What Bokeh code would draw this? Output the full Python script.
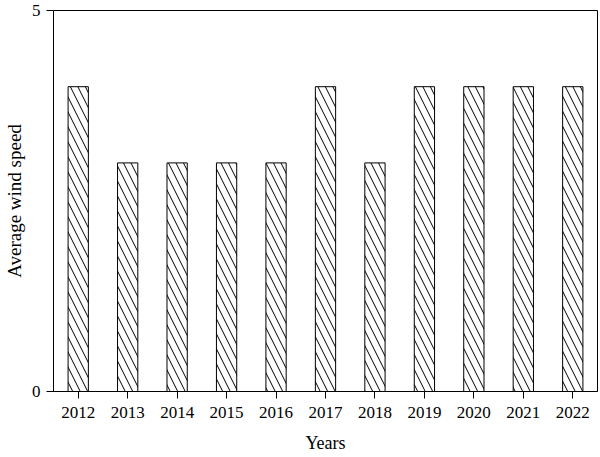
from bokeh.plotting import figure
from bokeh.models import FixedTicker, ColumnDataSource
from bokeh.embed import file_html
from bokeh.resources import INLINE

years = ["2012", "2013", "2014", "2015", "2016", "2017", "2018", "2019", "2020", "2021", "2022"]
speeds = [4, 3, 3, 3, 3, 4, 3, 4, 4, 4, 4]
y_ticks = [0, 5]

src = ColumnDataSource(dict(x=years, top=speeds))

p = figure(x_range=years, y_range=(0, 5), width=600, height=457,
           output_backend="svg", toolbar_location=None,
           min_border_left=10, min_border_right=3, min_border_top=10, min_border_bottom=66)
p.x_range.range_padding = 0

p.vbar(x="x", top="top", width=0.41, source=src, fill_color="white",
       line_color="black", line_width=1,
       hatch_pattern="\\", hatch_color="black", hatch_scale=15, hatch_weight=1)

p.xgrid.visible = False
p.ygrid.visible = False
p.outline_line_color = "black"
p.outline_line_width = 1
p.outline_line_alpha = 1

font = "Liberation Serif"
for ax in (p.xaxis[0], p.yaxis[0]):
    ax.axis_line_color = "black"
    ax.major_tick_line_color = "black"
    ax.minor_tick_line_color = None
    ax.major_tick_in = 0
    ax.major_tick_out = 7
    ax.major_label_text_font = font
    ax.major_label_text_font_size = "17px"
    ax.major_label_text_color = "black"
    ax.axis_label_text_font = font
    ax.axis_label_text_font_style = "normal"
    ax.axis_label_text_color = "black"

p.yaxis[0].ticker = FixedTicker(ticks=y_ticks)
p.yaxis[0].axis_label = "Average wind speed"
p.yaxis[0].axis_label_text_font_size = "19px"
p.xaxis[0].axis_label = "Years"
p.xaxis[0].axis_label_text_font_size = "18px"
p.xaxis[0].major_label_standoff = 8
p.xaxis[0].axis_label_standoff = 12
p.yaxis[0].major_label_standoff = 6
p.yaxis[0].axis_label_standoff = 4

open("out.html", "w").write(file_html(p, INLINE))
